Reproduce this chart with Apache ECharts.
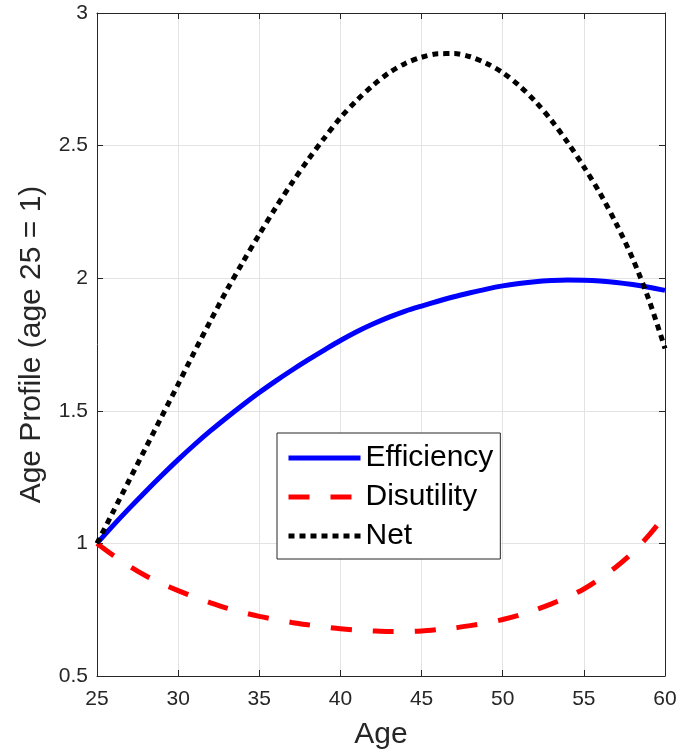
<!DOCTYPE html>
<html lang="en">

<head>
    <meta charset="UTF-8">
    <title>Age Profile</title>
    <style>
        html, body { margin: 0; padding: 0; background: #fff; }
        #root { width: 681px; height: 752px; }
    </style>
</head>

<body>
    <div id="root"></div>
    <script src="https://cdn.jsdelivr.net/npm/echarts@6/dist/echarts.min.js"></script>
    <script>
        // values, one per year of age
        var ages = [25, 26, 27, 28, 29, 30, 31, 32, 33, 34, 35, 36, 37, 38, 39, 40, 41, 42,
            43, 44, 45, 46, 47, 48, 49, 50, 51, 52, 53, 54, 55, 56, 57, 58, 59, 60];
        var efficiency = [1.000, 1.068, 1.133, 1.196, 1.257, 1.316, 1.372, 1.425, 1.475, 1.523,
            1.569, 1.612, 1.653, 1.692, 1.729, 1.765, 1.798, 1.827, 1.853, 1.876,
            1.895, 1.913, 1.930, 1.945, 1.959, 1.971, 1.980, 1.987, 1.991, 1.993,
            1.992, 1.989, 1.984, 1.976, 1.966, 1.954];
        var disutility = [1.000, 0.955, 0.914, 0.878, 0.848, 0.822, 0.798, 0.776, 0.756, 0.739,
            0.725, 0.713, 0.702, 0.693, 0.685, 0.678, 0.673, 0.670, 0.668, 0.668,
            0.670, 0.675, 0.681, 0.690, 0.700, 0.713, 0.729, 0.749, 0.772, 0.798,
            0.828, 0.867, 0.912, 0.965, 1.030, 1.105];
        var net = [1.000, 1.120, 1.240, 1.360, 1.480, 1.600, 1.722, 1.840, 1.955, 2.062,
            2.165, 2.265, 2.358, 2.446, 2.528, 2.605, 2.670, 2.727, 2.775, 2.810,
            2.833, 2.846, 2.847, 2.835, 2.810, 2.775, 2.727, 2.667, 2.595, 2.512,
            2.420, 2.320, 2.205, 2.075, 1.920, 1.735];

        var font = "'Liberation Sans', Arial, Helvetica, sans-serif";
        var axisColor = "#262626";

        function pairs(ys) {
            return ages.map(function (a, i) { return [a, ys[i]]; });
        }

        function boxAxis(extra) {
            var ax = {
                type: "value",
                axisLine: { show: true, onZero: false, lineStyle: { color: axisColor, width: 1 } },
                axisTick: { show: true, inside: true, length: 6, lineStyle: { color: axisColor } },
                axisLabel: { show: false },
                splitLine: { show: false }
            };
            return Object.assign(ax, extra);
        }

        var option = {
            animation: false,
            backgroundColor: "#fff",
            grid: { left: 97, right: 16, top: 13, bottom: 76, containLabel: false, outerBoundsMode: "none" },
            legend: {
                orient: "vertical",
                left: 277,
                top: 433,
                padding: [10, 7, 8, 9],
                itemWidth: 72,
                itemHeight: 20,
                itemGap: 9,
                backgroundColor: "#fff",
                borderColor: axisColor,
                borderWidth: 1,
                borderRadius: 0,
                // hide the marker dot, keep the line sample
                itemStyle: { color: "rgba(0,0,0,0)", borderWidth: 0, opacity: 0 },
                lineStyle: { width: 5, cap: "butt" },
                textStyle: { fontFamily: font, fontSize: 30, lineHeight: 30, color: "#000" },
                data: ["Efficiency", "Disutility", "Net"]
            },
            xAxis: [
                boxAxis({
                    min: 25, max: 60, interval: 5,
                    name: "Age",
                    nameLocation: "middle",
                    nameGap: 44,
                    nameTextStyle: { fontFamily: font, fontSize: 30, color: axisColor },
                    axisLabel: { show: true, margin: 13, fontFamily: font, fontSize: 21, color: axisColor },
                    splitLine: { show: true, lineStyle: { color: "#e3e3e3", width: 1 } }
                }),
                boxAxis({ min: 25, max: 60, interval: 5, position: "top" })
            ],
            yAxis: [
                boxAxis({
                    min: 0.5, max: 3, interval: 0.5,
                    name: "Age Profile (age 25 = 1)",
                    nameLocation: "middle",
                    nameGap: 50,
                    nameTextStyle: { fontFamily: font, fontSize: 30, color: axisColor },
                    axisLabel: { show: true, margin: 9, fontFamily: font, fontSize: 21, color: axisColor },
                    splitLine: { show: true, lineStyle: { color: "#e3e3e3", width: 1 } }
                }),
                boxAxis({ min: 0.5, max: 3, interval: 0.5, position: "right" })
            ],
            series: [
                {
                    name: "Efficiency",
                    type: "line",
                    data: pairs(efficiency),
                    smooth: 0.3,
                    symbol: "none",
                    color: "#0000ff",
                    lineStyle: { color: "#0000ff", width: 5 }
                },
                {
                    name: "Disutility",
                    type: "line",
                    data: pairs(disutility),
                    smooth: 0.3,
                    symbol: "none",
                    color: "#ff0000",
                    lineStyle: { color: "#ff0000", width: 5, type: [21, 21], cap: "butt" }
                },
                {
                    name: "Net",
                    type: "line",
                    data: pairs(net),
                    smooth: 0.3,
                    symbol: "none",
                    color: "#000000",
                    lineStyle: { color: "#000000", width: 5, type: [6, 5], cap: "butt" }
                }
            ]
        };

        var instance = echarts.init(document.getElementById("root"), null, { renderer: "canvas" });
        instance.setOption(option);
    </script>
</body>

</html>
